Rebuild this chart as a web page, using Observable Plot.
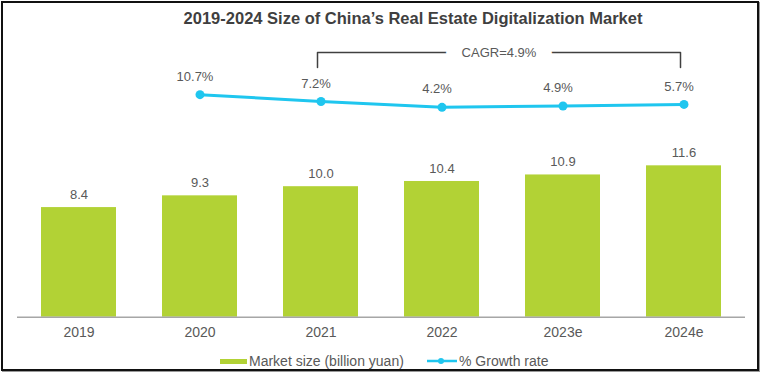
<!DOCTYPE html>
<html>
<head>
<meta charset="utf-8">
<script src="https://cdn.jsdelivr.net/npm/d3@7"></script>
<script src="https://cdn.jsdelivr.net/npm/@observablehq/plot@0.6"></script>
<style>
  html, body { margin: 0; padding: 0; background: #fff; }
  #wrap { position: relative; width: 761px; height: 374px; overflow: hidden; font-family: Arial, "Liberation Sans", sans-serif; }
  #frame { position: absolute; left: 1px; top: 1px; width: 754px; height: 366px; border: 2px solid #111; box-shadow: 1px 1px 0 #999; }
  #title { position: absolute; top: 9px; left: 0; width: 826px; text-align: center; font-weight: bold; font-size: 16.5px; color: #3f3f3f; }
  .layer { position: absolute; left: 0; top: 0; }
  .leg { position: absolute; font-size: 14px; color: #595959; white-space: nowrap; }
</style>
</head>
<body>
<div id="wrap">
  <div id="frame"></div>
  <div id="title"></div>
  <div id="bars" class="layer"></div>
  <div id="lines" class="layer"></div>
  <div class="leg" style="left:220px; top:352px;"><span style="display:inline-block;width:27px;height:5px;background:#b2d235;vertical-align:middle;margin-right:2px;"></span><span id="leg1" style="vertical-align:middle;"></span></div>
  <div class="leg" style="left:427px; top:352px;"><svg width="30" height="10" style="vertical-align:middle;margin-right:2px;"><line x1="0" y1="5" x2="30" y2="5" stroke="#1fc6ef" stroke-width="2.5"/><circle cx="14" cy="5" r="3" fill="#1fc6ef"/></svg><span id="leg2" style="vertical-align:middle;"></span></div>
</div>
<script>
const titleText = "2019-2024 Size of China’s Real Estate Digitalization Market";
const years = ["2019", "2020", "2021", "2022", "2023e", "2024e"];
const marketSize = [8.4, 9.3, 10.0, 10.4, 10.9, 11.6];
const growthYears = ["2020", "2021", "2022", "2023e", "2024e"];
const growthRate = [10.7, 7.2, 4.2, 4.9, 5.7];
const cagrLabel = "CAGR=4.9%";
const cagrFrom = "2021";
const cagrTo = "2024e";
const legendLabels = ["Market size (billion yuan)", "% Growth rate"];

document.getElementById("title").textContent = titleText;
document.getElementById("leg1").textContent = legendLabels[0];
document.getElementById("leg2").textContent = legendLabels[1];

const W = 761, H = 374;
const FONT = 'Arial, "Liberation Sans", sans-serif';
const GREEN = "#b2d235", BLUE = "#1fc6ef", GRAY = "#595959";

const barData = years.map((y, i) => ({year: y, value: marketSize[i]}));
const growthData = growthYears.map((y, i) => ({year: y, rate: growthRate[i]}));

const barPlot = Plot.plot({
  width: W, height: H,
  marginLeft: 17, marginRight: 16, marginTop: 29.6, marginBottom: 57.3,
  style: {background: "transparent", fontFamily: FONT, fontSize: "13px", color: GRAY},
  x: {domain: years, paddingInner: 0.38, paddingOuter: 0.19, label: null},
  y: {domain: [0, 22], axis: null},
  marks: [
    Plot.barY(barData, {x: "year", y: "value", fill: GREEN}),
    Plot.ruleY([0], {stroke: "#a6a6a6", strokeWidth: 1.5}),
    Plot.text(barData, {x: "year", y: "value", text: d => d.value.toFixed(1), dy: -13, fill: GRAY, fontSize: 13}),
    Plot.axisX({tickSize: 0, tickPadding: 10, fontSize: 14, fill: GRAY, label: null})
  ]
});
document.getElementById("bars").appendChild(barPlot);

const xs = barPlot.scale("x");
const center = y => xs.apply(y) + xs.bandwidth / 2;
const idx = y => years.indexOf(y);

const bracketTop = 32.3, bracketBottom = 24.6;
const bracket = [
  {x: idx(cagrFrom), y: bracketBottom},
  {x: idx(cagrFrom), y: bracketTop},
  {x: idx(cagrTo), y: bracketTop},
  {x: idx(cagrTo), y: bracketBottom}
];

const linePlot = Plot.plot({
  width: W, height: H,
  marginLeft: 0, marginRight: 0, marginTop: 37, marginBottom: 259,
  style: {background: "transparent", fontFamily: FONT, fontSize: "13px", color: GRAY},
  x: {type: "linear", domain: [0, years.length - 1], range: [center(years[0]), center(years[years.length - 1])], axis: null},
  y: {domain: [0, 40], axis: null},
  marks: [
    Plot.line(bracket, {x: "x", y: "y", stroke: "#404040", strokeWidth: 1.5, dx: -3.5}),
    Plot.text([cagrLabel], {x: (idx(cagrFrom) + idx(cagrTo)) / 2, y: bracketTop, text: d => d, dx: -3.5, fill: GRAY, fontSize: 13, stroke: "white", strokeWidth: 32}),
    Plot.line(growthData, {x: d => idx(d.year), y: "rate", stroke: BLUE, strokeWidth: 3}),
    Plot.dot(growthData, {x: d => idx(d.year), y: "rate", fill: BLUE, r: 4.5}),
    Plot.text(growthData, {x: d => idx(d.year), y: "rate", text: d => d.rate.toFixed(1) + "%", dy: -18, dx: -5, fill: GRAY, fontSize: 13})
  ]
});
document.getElementById("lines").appendChild(linePlot);
</script>
</body>
</html>
